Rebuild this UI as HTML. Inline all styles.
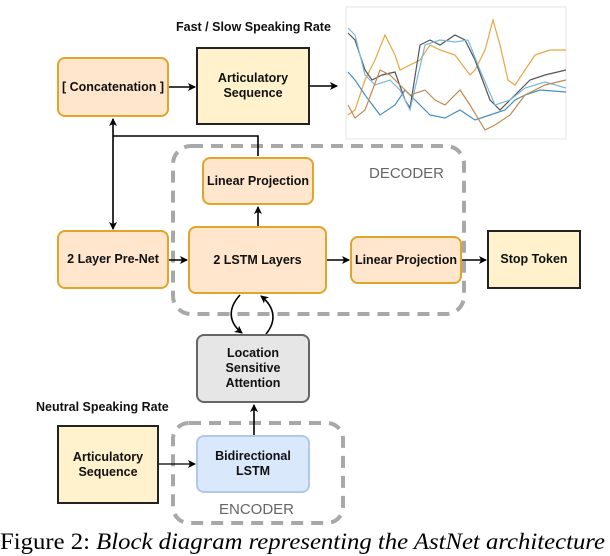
<!DOCTYPE html>
<html><head><meta charset="utf-8"><style>
body{margin:0;width:610px;height:556px;background:#fff;overflow:hidden;position:relative;font-family:"Liberation Sans",sans-serif}
.b{position:absolute;box-sizing:border-box;display:flex;align-items:center;justify-content:center;text-align:center;font-weight:bold;font-size:12.5px;line-height:15px;color:#111}
.o{background:#ffe6cc;border:2px solid #e0a52a;border-radius:8px}
.y{background:#fff2cc;border:2px solid #222}
.t{position:absolute;font-weight:bold;font-size:12.5px;color:#111;white-space:nowrap}
</style></head><body>
<svg width="610" height="556" style="position:absolute;left:0;top:0">
<defs><marker id="a" markerWidth="8" markerHeight="8" refX="7" refY="4" orient="auto" markerUnits="userSpaceOnUse"><path d="M0,0 L8,4 L0,8 L2,4z" fill="#000"/></marker></defs>
<rect x="173" y="146" width="291" height="168" rx="18" fill="none" stroke="#a8a8a8" stroke-width="4" stroke-dasharray="12,8"/>
<rect x="173" y="423" width="170" height="100" rx="16" fill="none" stroke="#a8a8a8" stroke-width="4" stroke-dasharray="12,8"/>
<g stroke="#000" stroke-width="1.6" fill="none">
<line x1="169" y1="87" x2="195" y2="87" marker-end="url(#a)"/>
<line x1="310" y1="86" x2="337" y2="86" marker-end="url(#a)"/>
<line x1="113" y1="136" x2="113" y2="119" marker-end="url(#a)"/>
<line x1="113" y1="136" x2="113" y2="229" marker-end="url(#a)"/>
<polyline points="113,136 258,136 258,156"/>
<line x1="169" y1="260" x2="187" y2="260" marker-end="url(#a)"/>
<line x1="258" y1="226" x2="258" y2="207" marker-end="url(#a)"/>
<line x1="327" y1="260" x2="349" y2="260" marker-end="url(#a)"/>
<line x1="462" y1="260" x2="486" y2="260" marker-end="url(#a)"/>
<path d="M240,295 C228,308 228,322 242,333" marker-end="url(#a)"/>
<path d="M266,334 C276,322 276,308 261,296" marker-end="url(#a)"/>
<line x1="254" y1="435" x2="254" y2="405" marker-end="url(#a)"/>
<line x1="159" y1="464" x2="195" y2="464" stroke-width="1.2" marker-end="url(#a)"/>
</g>
<rect x="346" y="7" width="220" height="132" fill="#fff" stroke="#e4e4e4"/>
<g fill="none" stroke-width="1.2">
<polyline stroke="#e8a640" points="348,115 355,110 365,80 375,60 385,35 395,55 400,70 410,65 420,60 430,45 440,50 455,55 470,75 475,70 485,50 493,20 500,45 508,80 515,85 525,70 535,55 550,50 566,50"/>
<polyline stroke="#4a8ec0" points="348,72 355,80 365,95 380,115 395,105 405,90 415,100 430,115 445,118 460,110 475,120 490,115 505,110 515,100 525,95 540,90 566,92"/>
<polyline stroke="#555" points="348,33 355,40 365,70 372,80 382,75 395,72 405,100 410,108 420,45 430,40 440,45 455,35 465,40 475,60 490,100 500,110 515,95 530,80 545,75 566,70"/>
<polyline stroke="#7ab8e0" points="348,28 355,35 365,75 375,85 390,80 400,90 410,110 425,45 440,40 455,42 468,40 480,70 495,105 510,100 525,88 545,82 566,88"/>
<polyline stroke="#c48a50" points="348,105 355,118 365,110 380,70 390,75 400,85 410,95 425,90 435,100 445,105 460,90 470,105 485,130 495,125 510,115 525,95 545,85 566,80"/>
</g>
</svg>
<div class="t" style="left:176px;top:20px">Fast / Slow Speaking Rate</div>
<div class="t" style="left:36px;top:400px">Neutral Speaking Rate</div>
<div class="t" style="left:369px;top:165px;color:#666;font-weight:normal;font-size:15px">DECODER</div>
<div class="t" style="left:219px;top:501px;color:#666;font-weight:normal;font-size:15px">ENCODER</div>
<div class="b o" style="left:57px;top:57px;width:112px;height:60px">[ Concatenation ]</div>
<div class="b y" style="left:196px;top:47px;width:114px;height:78px">Articulatory<br>Sequence</div>
<div class="b o" style="left:202px;top:157px;width:112px;height:48px">Linear Projection</div>
<div class="b o" style="left:57px;top:230px;width:112px;height:59px">2 Layer Pre-Net</div>
<div class="b o" style="left:188px;top:226px;width:139px;height:68px">2 LSTM Layers</div>
<div class="b o" style="left:350px;top:236px;width:112px;height:48px">Linear Projection</div>
<div class="b y" style="left:487px;top:230px;width:94px;height:59px">Stop Token</div>
<div class="b" style="left:196px;top:334px;width:114px;height:69px;background:#e6e6e6;border:2px solid #666;border-radius:8px">Location<br>Sensitive<br>Attention</div>
<div class="b y" style="left:57px;top:425px;width:102px;height:79px">Articulatory<br>Sequence</div>
<div class="b" style="left:196px;top:435px;width:114px;height:58px;background:#dae8fc;border:2px solid #b0c8ea;border-radius:8px">Bidirectional<br>LSTM</div>
<div style="position:absolute;left:0;top:529px;font-family:'Liberation Serif',serif;font-size:23px;white-space:nowrap;color:#000;transform:scaleX(1.075);transform-origin:0 0">Figure 2: <i>Block diagram representing the AstNet architecture</i></div>
</body></html>
